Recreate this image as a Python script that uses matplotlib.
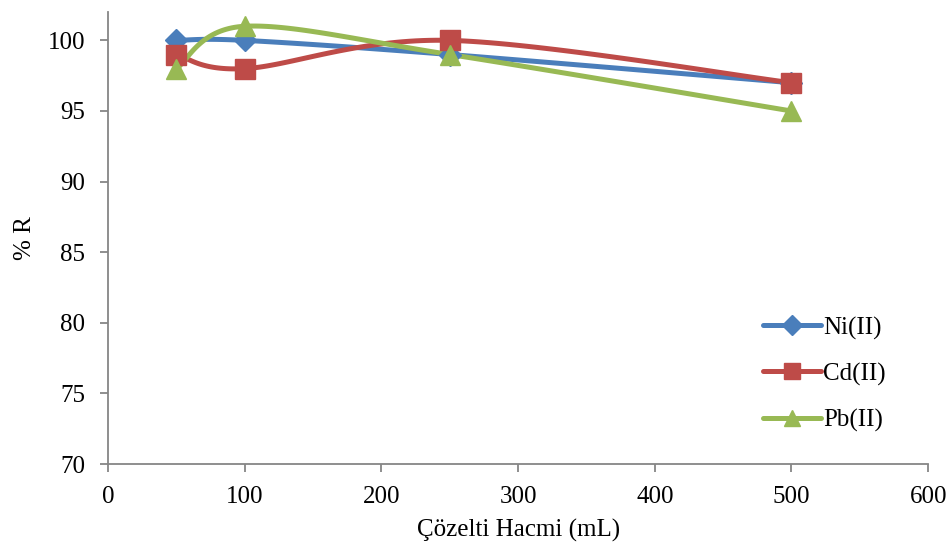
import numpy as np
from matplotlib import pyplot as plt
from matplotlib.lines import Line2D

# data
volume = [50, 100, 250, 500]
ni = [100, 100, 99, 97]
cd = [99, 98, 100, 97]
pb = [98, 101, 99, 95]

labels = ['Ni(II)', 'Cd(II)', 'Pb(II)']
colors = ['#4A7EBB', '#BE4B48', '#98B954']
markers = ['D', 's', '^']
msizes = [11.5, 14, 14]

plt.rcParams['font.family'] = ['Liberation Serif', 'DejaVu Serif']


def smooth(x, y, n=40):
    # Excel style smoothed line (bezier, control points from neighbours / 6)
    x = np.asarray(x, float)
    y = np.asarray(y, float)
    # work in pixel-ish space so the curve shape follows the screen
    sx, sy = 137.0 / 100, 14.0
    px, py = x * sx, y * sy
    out_x, out_y = [px[0]], [py[0]]
    for i in range(len(px) - 1):
        p0 = (px[i - 1], py[i - 1]) if i > 0 else (px[i], py[i])
        p1 = (px[i], py[i])
        p2 = (px[i + 1], py[i + 1])
        p3 = (px[i + 2], py[i + 2]) if i + 2 < len(px) else (px[i + 1], py[i + 1])
        c1 = (p1[0] + (p2[0] - p0[0]) / 6, p1[1] + (p2[1] - p0[1]) / 6)
        c2 = (p2[0] - (p3[0] - p1[0]) / 6, p2[1] - (p3[1] - p1[1]) / 6)
        t = np.linspace(0, 1, n)[1:]
        bx = (1 - t) ** 3 * p1[0] + 3 * (1 - t) ** 2 * t * c1[0] + 3 * (1 - t) * t ** 2 * c2[0] + t ** 3 * p2[0]
        by = (1 - t) ** 3 * p1[1] + 3 * (1 - t) ** 2 * t * c1[1] + 3 * (1 - t) * t ** 2 * c2[1] + t ** 3 * p2[1]
        out_x.extend(bx)
        out_y.extend(by)
    return np.array(out_x) / sx, np.array(out_y) / sy


fig = plt.figure(figsize=(9.52, 5.52), dpi=100)
ax = fig.add_axes([0.1134, 0.1594, 0.8616, 0.8186])

handles = []
for vals, lab, col, mk, ms in zip([ni, cd, pb], labels, colors, markers, msizes):
    sx, sy = smooth(volume, vals)
    ax.plot(sx, sy, color=col, lw=3.6, solid_capstyle='round', zorder=2)
    ax.plot(volume, vals, linestyle='none', marker=mk, ms=ms, color=col, zorder=3)
    handles.append(Line2D([], [], color=col, lw=3.6, marker=mk, ms=ms * 0.85, solid_capstyle='round'))

ax.set_xlim(0, 600)
ax.set_ylim(70, 102)
ax.set_xticks(np.arange(0, 601, 100))
ax.set_yticks(np.arange(70, 101, 5))
ax.tick_params(labelsize=18, direction='out', length=5.5, color='#868686', width=1.3)
ax.tick_params(axis='y', pad=11)
ax.tick_params(axis='x', pad=10)

for side in ['top', 'right']:
    ax.spines[side].set_visible(False)
for side in ['left', 'bottom']:
    ax.spines[side].set_color('#868686')
    ax.spines[side].set_linewidth(1.3)

ax.set_xlabel('Çözelti Hacmi (mL)', fontsize=18, labelpad=8)
ax.set_ylabel('% R', fontsize=18, labelpad=8)

ax.legend(handles, labels, loc='center left', bbox_to_anchor=(0.799, 0.199), frameon=False,
          fontsize=18, labelspacing=0.92, handlelength=2.3, handletextpad=0.08,
          borderpad=0, borderaxespad=0)

fig.savefig('out.png', dpi=100)
